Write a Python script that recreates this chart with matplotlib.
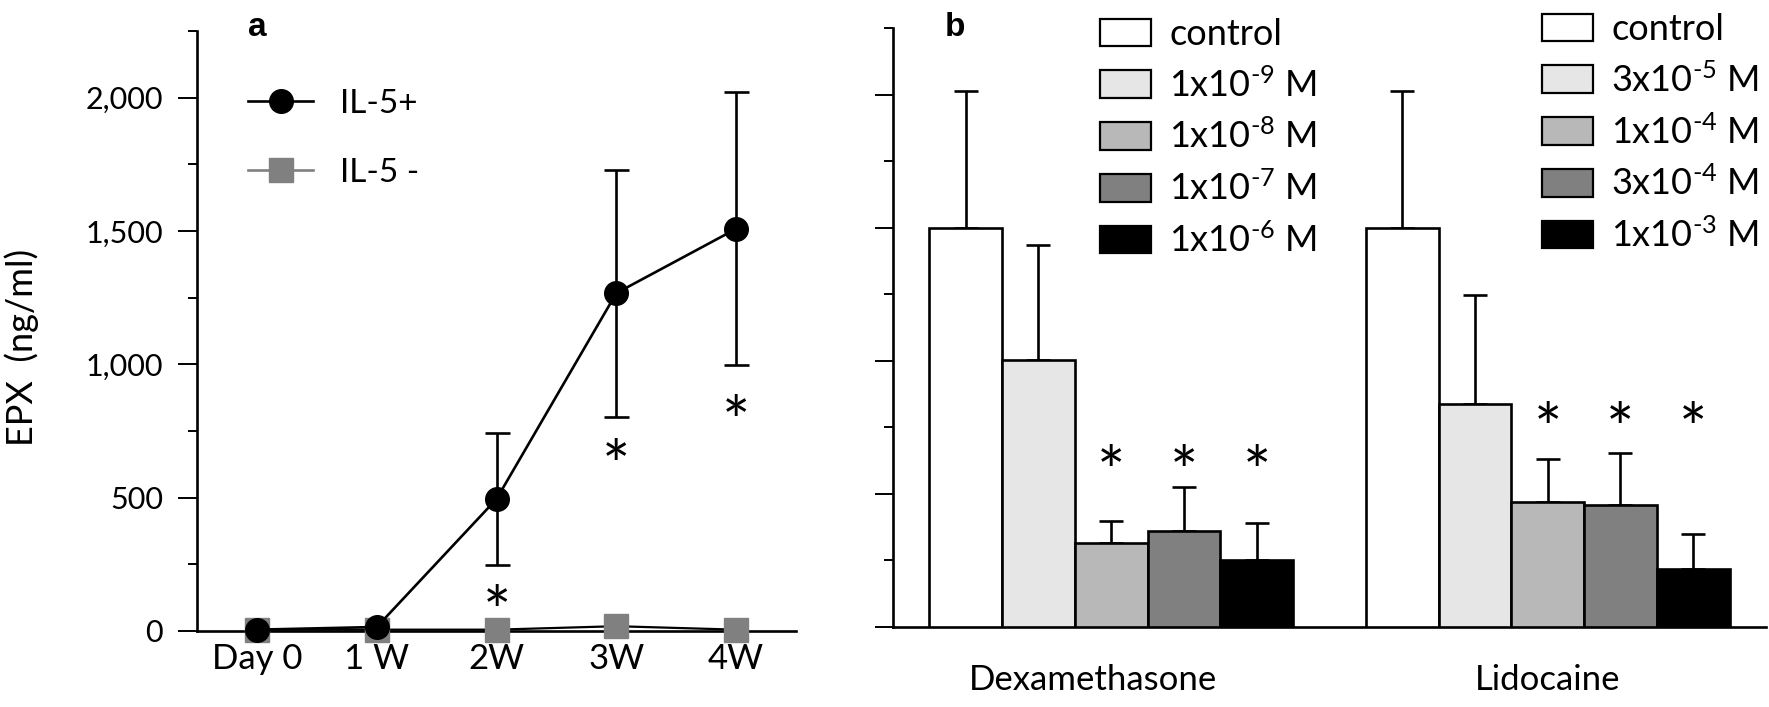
import matplotlib
matplotlib.use('Agg')
import matplotlib.pyplot as plt
from matplotlib.patches import Patch
from matplotlib.lines import Line2D
from matplotlib.ticker import FuncFormatter
from matplotlib.transforms import offset_copy

plt.rcParams['font.family'] = ['Lato', 'DejaVu Sans']
plt.rcParams['mathtext.fontset'] = 'custom'
plt.rcParams['mathtext.rm'] = 'Lato'
plt.rcParams['mathtext.default'] = 'regular'

# panel a: EPX over time
weeks = ['Day 0', '1 W', '2W', '3W', '4W']
il5_pos = [5, 15, 495, 1267, 1508]
il5_pos_err = [0, 0, 248, 463, 512]
il5_neg = [5, 5, 5, 18, 5]
star_a_idx = [2, 3, 4]
star_a_y = [140, 686, 851]

# panel b: drug treatment
drugs = ['Dexamethasone', 'Lidocaine']
dex_labels = ['control', '1x10$^{\u20109}$ M', '1x10$^{\u20108}$ M', '1x10$^{\u20107}$ M', '1x10$^{\u20106}$ M']
lido_labels = ['control', '3x10$^{\u20105}$ M', '1x10$^{\u20104}$ M', '3x10$^{\u20104}$ M', '1x10$^{\u20103}$ M']
dex_vals = [1500, 1001, 315, 362, 252]
dex_err = [512, 432, 82, 162, 137]
lido_vals = [1500, 837, 470, 457, 216]
lido_err = [512, 411, 162, 197, 134]
star_dex_y = 642
star_lido_y = 804
bar_colors = ['white', '#e6e6e6', '#b8b8b8', '#808080', 'black']

LW = 1.9
STAR_FS = 48

fig = plt.figure(figsize=(17.69, 7.07), dpi=100)
axa = fig.add_axes([0.1114, 0.1075, 0.3386, 0.8487])
axb = fig.add_axes([0.5048, 0.1132, 0.4935, 0.8472])

# the asterisk glyph sits high in its box, shift it down onto the value
star_a_tr = offset_copy(axa.transData, fig=fig, y=-0.33 * STAR_FS, units='points')
star_b_tr = offset_copy(axb.transData, fig=fig, y=-0.30 * STAR_FS, units='points')

# ---- panel a ----
x = list(range(len(weeks)))
axa.plot(x, il5_neg, color='black', lw=1.6, marker='s', ms=17,
         mfc='#808080', mec='#808080', clip_on=False, zorder=3)
axa.errorbar(x[2:], il5_pos[2:], yerr=il5_pos_err[2:], fmt='none', ecolor='black',
             elinewidth=LW, capsize=9, capthick=LW, zorder=4)
axa.plot(x, il5_pos, color='black', lw=LW, marker='o', ms=17, clip_on=False, zorder=5)
for i, yy in zip(star_a_idx, star_a_y):
    axa.text(x[i], yy, '*', ha='center', va='center', fontsize=STAR_FS, transform=star_a_tr)

axa.set_xlim(-0.5, 4.5)
axa.set_ylim(0, 2250)
axa.set_xticks(x)
axa.set_xticklabels(weeks, fontsize=25)
axa.tick_params(axis='x', length=0, pad=9)
axa.set_yticks([0, 500, 1000, 1500, 2000])
axa.set_yticks([250, 750, 1250, 1750, 2250], minor=True)
axa.yaxis.set_major_formatter(FuncFormatter(lambda v, p: f'{int(v):,}'))
axa.tick_params(axis='y', which='major', length=13.5, width=1.4, labelsize=22, pad=11)
axa.tick_params(axis='y', which='minor', length=6.5, width=1.4)
for s in ['top', 'right']:
    axa.spines[s].set_visible(False)
for s in ['left', 'bottom']:
    axa.spines[s].set_linewidth(LW)

handles_a = [Line2D([], [], color='black', lw=LW, marker='o', ms=17),
             Line2D([], [], color='#808080', lw=LW, marker='s', ms=17)]
axa.legend(handles_a, ['IL-5+', 'IL-5 -'], loc='upper left',
           bbox_to_anchor=(248 / 1769, 1 - 89 / 707), bbox_transform=fig.transFigure,
           frameon=False, fontsize=24, handlelength=1.95, handletextpad=0.8,
           labelspacing=1.17, borderpad=0, borderaxespad=0)
fig.text(257 / 1769, 1 - 27 / 707, 'a', fontsize=24, fontweight='bold',
         family='Liberation Sans', ha='center', va='center')
fig.text(22 / 1769, 1 - 347 / 707, 'EPX  (ng/ml)', rotation=90, fontsize=26,
         ha='center', va='center')

# ---- panel b ----
n = len(dex_vals)
dex_x = list(range(n))
lido_x = [i + n + 1 for i in range(n)]
axb.bar(dex_x, dex_vals, width=1.0, color=bar_colors, edgecolor='black', linewidth=LW, zorder=3)
axb.bar(lido_x, lido_vals, width=1.0, color=bar_colors, edgecolor='black', linewidth=LW, zorder=3)
axb.errorbar(dex_x, dex_vals, yerr=[[0] * n, dex_err], fmt='none', ecolor='black',
             elinewidth=LW, capsize=8.6, capthick=LW, zorder=2)
axb.errorbar(lido_x, lido_vals, yerr=[[0] * n, lido_err], fmt='none', ecolor='black',
             elinewidth=LW, capsize=8.6, capthick=LW, zorder=2)
for i in range(2, n):
    axb.text(dex_x[i], star_dex_y, '*', ha='center', va='center', fontsize=STAR_FS,
             transform=star_b_tr)
    axb.text(lido_x[i], star_lido_y, '*', ha='center', va='center', fontsize=STAR_FS,
             transform=star_b_tr)

axb.set_xlim(-1.0, 11.0)
axb.set_ylim(0, 2250)
axb.set_xticks([1.75, lido_x[2]])
axb.set_xticklabels(drugs, fontsize=25)
axb.tick_params(axis='x', length=0, pad=27)
axb.set_yticks([0, 500, 1000, 1500, 2000])
axb.set_yticks([250, 750, 1250, 1750, 2250], minor=True)
axb.set_yticklabels([])
axb.tick_params(axis='y', which='major', length=13, width=1.4)
axb.tick_params(axis='y', which='minor', length=6.5, width=1.4)
for s in ['top', 'right']:
    axb.spines[s].set_visible(False)
for s in ['left', 'bottom']:
    axb.spines[s].set_linewidth(LW)

leg_kw = dict(loc='upper left', bbox_transform=fig.transFigure, frameon=False,
              fontsize=26, handlelength=1.42, handleheight=0.8, handletextpad=0.5,
              labelspacing=0.45, borderpad=0, borderaxespad=0)
dex_handles = [Patch(facecolor=c, edgecolor='black', linewidth=1.6) for c in bar_colors]
lido_handles = [Patch(facecolor=c, edgecolor='black', linewidth=1.6) for c in bar_colors]
leg1 = axb.legend(dex_handles, dex_labels, bbox_to_anchor=(1100 / 1769, 1 - 18 / 707), **leg_kw)
axb.add_artist(leg1)
axb.legend(lido_handles, lido_labels, bbox_to_anchor=(1542 / 1769, 1 - 13 / 707), **leg_kw)
fig.text(955 / 1769, 1 - 27 / 707, 'b', fontsize=24, fontweight='bold',
         family='Liberation Sans', ha='center', va='center')

fig.savefig('out.png', dpi=100, facecolor='white')
